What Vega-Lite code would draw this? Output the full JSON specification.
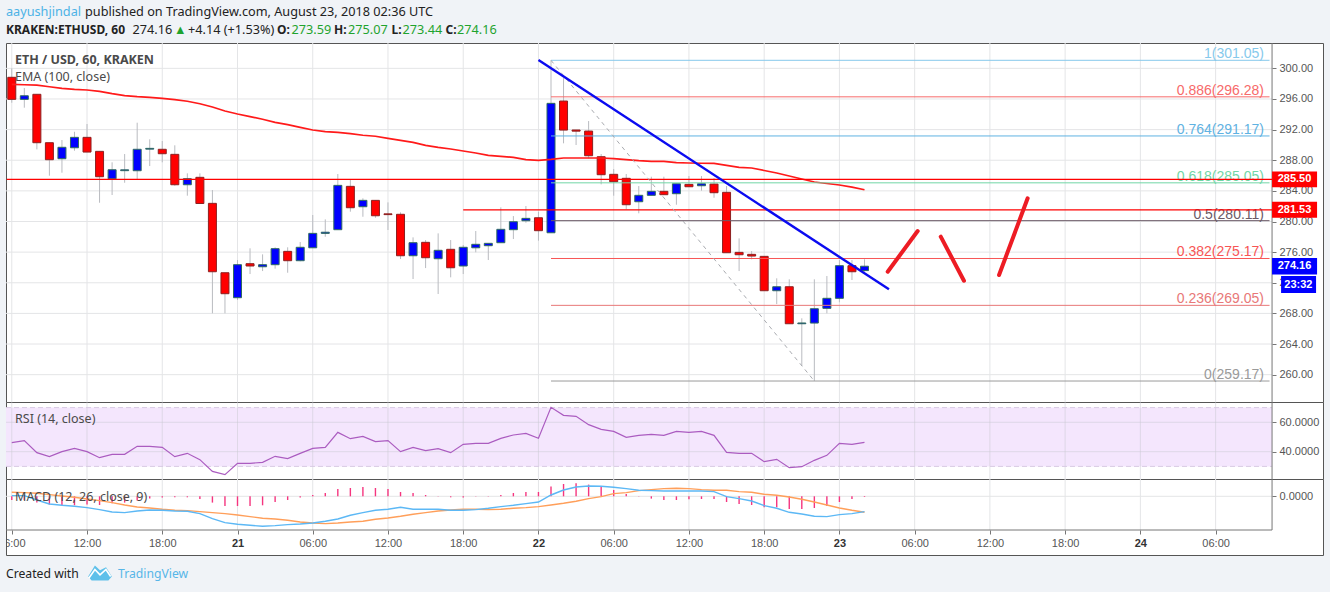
{
  "$schema": "https://vega.github.io/schema/vega-lite/v6.json",
  "background": "#f0f3f7",
  "padding": {"left": 5, "right": 7, "top": 0, "bottom": 0},
  "spacing": 0,
  "bounds": "flush",
  "resolve": {"scale": {"color": "independent"}},
  "config": {
    "axis": {"labelFont": "Liberation Sans", "labelFontSize": 11, "labelColor": "#555555", "tickColor": "#777777", "domain": false, "grid": false},
    "scale": {"continuousPadding": 0},
    "text": {"font": "Liberation Sans"}
  },
  "datasets": {
    "bars": [
      {"h":6,"o":298.83,"c":295.95,"hi":300.00,"lo":295.51,"dir":"down","ema":297.92,"rsi":46.14,"macd":0.07,"signal":0.40,"hist":-0.37},
      {"h":7,"o":295.95,"c":296.42,"hi":297.43,"lo":294.86,"dir":"up","ema":297.86,"rsi":47.51,"macd":0.07,"signal":0.37,"hist":-0.37},
      {"h":8,"o":296.61,"c":290.29,"hi":296.61,"lo":289.42,"dir":"down","ema":297.82,"rsi":39.34,"macd":-0.37,"signal":0.30,"hist":-0.63},
      {"h":9,"o":290.29,"c":288.07,"hi":290.29,"lo":285.98,"dir":"down","ema":297.60,"rsi":36.62,"macd":-0.77,"signal":0.17,"hist":-0.83},
      {"h":10,"o":288.20,"c":289.69,"hi":290.64,"lo":286.37,"dir":"up","ema":297.39,"rsi":40.02,"macd":-0.90,"signal":0.03,"hist":-0.90},
      {"h":11,"o":289.63,"c":290.99,"hi":291.72,"lo":289.24,"dir":"up","ema":297.26,"rsi":42.29,"macd":-1.00,"signal":-0.10,"hist":-0.90},
      {"h":12,"o":290.99,"c":289.07,"hi":292.73,"lo":289.07,"dir":"down","ema":297.17,"rsi":40.02,"macd":-1.13,"signal":-0.27,"hist":-0.83},
      {"h":13,"o":289.16,"c":285.85,"hi":289.16,"lo":282.45,"dir":"down","ema":297.00,"rsi":35.94,"macd":-1.33,"signal":-0.43,"hist":-0.87},
      {"h":14,"o":285.58,"c":286.76,"hi":287.73,"lo":283.46,"dir":"up","ema":296.69,"rsi":38.21,"macd":-1.57,"signal":-0.63,"hist":-0.70},
      {"h":15,"o":286.64,"c":286.75,"hi":288.81,"lo":285.06,"dir":"up","ema":296.43,"rsi":38.21,"macd":-1.63,"signal":-0.87,"hist":-0.63},
      {"h":16,"o":286.63,"c":289.43,"hi":292.90,"lo":285.51,"dir":"up","ema":296.30,"rsi":43.65,"macd":-1.47,"signal":-1.07,"hist":-0.43},
      {"h":17,"o":289.45,"c":289.55,"hi":290.73,"lo":287.24,"dir":"up","ema":296.22,"rsi":43.65,"macd":-1.37,"signal":-1.17,"hist":-0.23},
      {"h":18,"o":289.43,"c":288.85,"hi":290.51,"lo":287.73,"dir":"down","ema":296.09,"rsi":42.97,"macd":-1.40,"signal":-1.30,"hist":-0.13},
      {"h":19,"o":288.77,"c":284.80,"hi":289.95,"lo":284.67,"dir":"down","ema":295.91,"rsi":36.62,"macd":-1.47,"signal":-1.40,"hist":-0.10},
      {"h":20,"o":284.80,"c":285.59,"hi":286.29,"lo":283.37,"dir":"up","ema":295.70,"rsi":38.89,"macd":-1.50,"signal":-1.43,"hist":-0.10},
      {"h":21,"o":285.77,"c":282.35,"hi":286.29,"lo":282.35,"dir":"down","ema":295.38,"rsi":34.58,"macd":-1.73,"signal":-1.53,"hist":-0.27},
      {"h":22,"o":282.37,"c":273.44,"hi":284.11,"lo":268.01,"dir":"down","ema":294.95,"rsi":26.64,"macd":-2.23,"signal":-1.63,"hist":-0.63},
      {"h":23,"o":273.31,"c":270.57,"hi":273.31,"lo":268.01,"dir":"down","ema":294.43,"rsi":24.38,"macd":-2.63,"signal":-1.73,"hist":-0.97},
      {"h":24,"o":270.05,"c":274.36,"hi":274.97,"lo":269.75,"dir":"up","ema":294.04,"rsi":32.09,"macd":-2.80,"signal":-1.87,"hist":-0.97},
      {"h":25,"o":274.49,"c":274.19,"hi":276.50,"lo":273.14,"dir":"down","ema":293.69,"rsi":32.09,"macd":-2.90,"signal":-2.03,"hist":-0.97},
      {"h":26,"o":274.09,"c":274.36,"hi":275.71,"lo":273.53,"dir":"up","ema":293.35,"rsi":32.77,"macd":-3.00,"signal":-2.20,"hist":-0.90},
      {"h":27,"o":274.36,"c":276.45,"hi":276.63,"lo":273.84,"dir":"up","ema":292.95,"rsi":36.85,"macd":-2.93,"signal":-2.27,"hist":-0.57},
      {"h":28,"o":276.10,"c":274.88,"hi":276.63,"lo":273.31,"dir":"down","ema":292.64,"rsi":35.26,"macd":-2.83,"signal":-2.40,"hist":-0.37},
      {"h":29,"o":274.88,"c":276.63,"hi":277.32,"lo":274.80,"dir":"up","ema":292.30,"rsi":38.89,"macd":-2.77,"signal":-2.57,"hist":-0.13},
      {"h":30,"o":276.57,"c":278.45,"hi":280.85,"lo":276.57,"dir":"up","ema":291.95,"rsi":42.29,"macd":-2.67,"signal":-2.67,"hist":0.13},
      {"h":31,"o":278.45,"c":278.60,"hi":280.28,"lo":278.01,"dir":"up","ema":291.73,"rsi":42.97,"macd":-2.50,"signal":-2.73,"hist":0.33},
      {"h":32,"o":278.93,"c":284.72,"hi":286.20,"lo":278.93,"dir":"up","ema":291.65,"rsi":53.17,"macd":-2.27,"signal":-2.67,"hist":0.73},
      {"h":33,"o":284.59,"c":281.80,"hi":285.42,"lo":281.28,"dir":"down","ema":291.47,"rsi":48.87,"macd":-1.90,"signal":-2.57,"hist":0.83},
      {"h":34,"o":281.93,"c":282.76,"hi":283.03,"lo":280.62,"dir":"up","ema":291.26,"rsi":50.45,"macd":-1.63,"signal":-2.50,"hist":0.93},
      {"h":35,"o":282.76,"c":280.75,"hi":282.76,"lo":280.49,"dir":"down","ema":291.13,"rsi":46.83,"macd":-1.40,"signal":-2.30,"hist":0.83},
      {"h":36,"o":281.00,"c":280.90,"hi":282.50,"lo":278.89,"dir":"down","ema":290.86,"rsi":47.51,"macd":-1.30,"signal":-2.17,"hist":0.73},
      {"h":37,"o":280.94,"c":275.53,"hi":281.20,"lo":275.10,"dir":"down","ema":290.60,"rsi":40.02,"macd":-1.10,"signal":-2.00,"hist":0.43},
      {"h":38,"o":275.53,"c":277.23,"hi":277.93,"lo":272.49,"dir":"up","ema":290.34,"rsi":42.97,"macd":-1.30,"signal":-1.80,"hist":0.33},
      {"h":39,"o":277.28,"c":275.27,"hi":277.58,"lo":273.92,"dir":"down","ema":289.95,"rsi":40.70,"macd":-1.30,"signal":-1.63,"hist":0.13},
      {"h":40,"o":275.14,"c":276.24,"hi":278.45,"lo":270.53,"dir":"up","ema":289.69,"rsi":42.06,"macd":-1.30,"signal":-1.47,"hist":0.03},
      {"h":41,"o":276.37,"c":273.96,"hi":277.58,"lo":272.71,"dir":"down","ema":289.47,"rsi":39.34,"macd":-1.40,"signal":-1.37,"hist":-0.10},
      {"h":42,"o":274.19,"c":276.63,"hi":276.93,"lo":273.14,"dir":"up","ema":289.21,"rsi":45.01,"macd":-1.40,"signal":-1.30,"hist":-0.13},
      {"h":43,"o":276.57,"c":277.02,"hi":278.76,"lo":275.98,"dir":"up","ema":288.95,"rsi":45.69,"macd":-1.33,"signal":-1.30,"hist":-0.03},
      {"h":44,"o":276.84,"c":277.15,"hi":277.15,"lo":274.97,"dir":"up","ema":288.64,"rsi":45.69,"macd":-1.20,"signal":-1.33,"hist":0.03},
      {"h":45,"o":277.23,"c":278.98,"hi":281.85,"lo":277.23,"dir":"up","ema":288.51,"rsi":49.09,"macd":-1.03,"signal":-1.30,"hist":0.13},
      {"h":46,"o":278.93,"c":279.97,"hi":280.71,"lo":277.71,"dir":"up","ema":288.38,"rsi":51.36,"macd":-0.90,"signal":-1.20,"hist":0.33},
      {"h":47,"o":280.10,"c":280.41,"hi":282.02,"lo":279.84,"dir":"up","ema":288.07,"rsi":52.49,"macd":-0.73,"signal":-1.13,"hist":0.43},
      {"h":48,"o":280.49,"c":278.80,"hi":281.28,"lo":277.49,"dir":"down","ema":287.99,"rsi":49.09,"macd":-0.57,"signal":-1.03,"hist":0.43},
      {"h":49,"o":278.53,"c":295.43,"hi":301.05,"lo":278.53,"dir":"up","ema":288.12,"rsi":70.18,"macd":0.13,"signal":-0.87,"hist":0.97},
      {"h":50,"o":295.73,"c":291.94,"hi":298.73,"lo":290.21,"dir":"down","ema":288.29,"rsi":64.74,"macd":0.63,"signal":-0.70,"hist":1.23},
      {"h":51,"o":291.95,"c":291.80,"hi":291.95,"lo":289.99,"dir":"down","ema":288.29,"rsi":64.06,"macd":0.93,"signal":-0.50,"hist":1.30},
      {"h":52,"o":291.81,"c":288.59,"hi":293.12,"lo":288.25,"dir":"down","ema":288.29,"rsi":58.39,"macd":1.03,"signal":-0.23,"hist":1.17},
      {"h":53,"o":288.46,"c":286.11,"hi":288.81,"lo":284.85,"dir":"down","ema":288.29,"rsi":55.22,"macd":1.00,"signal":-0.03,"hist":0.93},
      {"h":54,"o":286.16,"c":285.19,"hi":286.85,"lo":283.37,"dir":"down","ema":288.20,"rsi":53.85,"macd":0.90,"signal":0.27,"hist":0.63},
      {"h":55,"o":285.64,"c":282.19,"hi":286.20,"lo":281.59,"dir":"down","ema":288.07,"rsi":49.77,"macd":0.77,"signal":0.37,"hist":0.23},
      {"h":56,"o":282.58,"c":283.42,"hi":284.63,"lo":281.07,"dir":"up","ema":287.94,"rsi":51.13,"macd":0.60,"signal":0.57,"hist":0.03},
      {"h":57,"o":283.42,"c":283.94,"hi":285.85,"lo":283.42,"dir":"up","ema":287.86,"rsi":51.81,"macd":0.57,"signal":0.67,"hist":-0.23},
      {"h":58,"o":283.94,"c":283.50,"hi":285.85,"lo":283.50,"dir":"down","ema":287.86,"rsi":51.13,"macd":0.53,"signal":0.77,"hist":-0.37},
      {"h":59,"o":283.63,"c":284.93,"hi":284.93,"lo":282.19,"dir":"up","ema":287.68,"rsi":53.85,"macd":0.53,"signal":0.80,"hist":-0.37},
      {"h":60,"o":284.85,"c":284.54,"hi":285.94,"lo":284.54,"dir":"down","ema":287.64,"rsi":53.17,"macd":0.53,"signal":0.77,"hist":-0.30},
      {"h":61,"o":284.67,"c":284.93,"hi":285.94,"lo":284.02,"dir":"up","ema":287.61,"rsi":53.85,"macd":0.53,"signal":0.67,"hist":-0.27},
      {"h":62,"o":284.89,"c":283.76,"hi":285.68,"lo":283.10,"dir":"down","ema":287.60,"rsi":51.13,"macd":0.47,"signal":0.60,"hist":-0.27},
      {"h":63,"o":283.81,"c":275.92,"hi":284.63,"lo":275.92,"dir":"down","ema":287.34,"rsi":39.57,"macd":-0.03,"signal":0.60,"hist":-0.57},
      {"h":64,"o":275.97,"c":275.66,"hi":277.80,"lo":273.53,"dir":"down","ema":287.08,"rsi":38.89,"macd":-0.23,"signal":0.47,"hist":-0.77},
      {"h":65,"o":275.71,"c":275.49,"hi":276.14,"lo":275.06,"dir":"down","ema":286.99,"rsi":38.89,"macd":-0.47,"signal":0.40,"hist":-0.87},
      {"h":66,"o":275.45,"c":270.96,"hi":275.45,"lo":270.96,"dir":"down","ema":286.66,"rsi":33.22,"macd":-0.93,"signal":0.20,"hist":-1.10},
      {"h":67,"o":270.96,"c":271.48,"hi":272.58,"lo":269.22,"dir":"up","ema":286.33,"rsi":34.81,"macd":-1.20,"signal":0.10,"hist":-1.10},
      {"h":68,"o":271.48,"c":266.65,"hi":272.45,"lo":266.65,"dir":"down","ema":285.94,"rsi":29.14,"macd":-1.60,"signal":-0.07,"hist":-1.27},
      {"h":69,"o":266.65,"c":266.75,"hi":267.36,"lo":261.13,"dir":"up","ema":285.55,"rsi":29.82,"macd":-1.77,"signal":-0.30,"hist":-1.27},
      {"h":70,"o":266.74,"c":268.61,"hi":272.45,"lo":259.17,"dir":"up","ema":285.16,"rsi":34.13,"macd":-2.00,"signal":-0.57,"hist":-1.17},
      {"h":71,"o":268.66,"c":269.97,"hi":272.88,"lo":268.01,"dir":"up","ema":284.96,"rsi":37.53,"macd":-2.03,"signal":-0.87,"hist":-0.97},
      {"h":72,"o":269.97,"c":274.23,"hi":274.97,"lo":269.45,"dir":"up","ema":284.77,"rsi":45.69,"macd":-1.83,"signal":-1.17,"hist":-0.57},
      {"h":73,"o":274.23,"c":273.44,"hi":274.97,"lo":272.36,"dir":"down","ema":284.50,"rsi":45.01,"macd":-1.73,"signal":-1.40,"hist":-0.27},
      {"h":74,"o":273.59,"c":274.16,"hi":275.07,"lo":273.44,"dir":"up","ema":284.15,"rsi":46.37,"macd":-1.53,"signal":-1.60,"hist":-0.07}
    ],
    "timeGrid": [{"h":6},{"h":12},{"h":18},{"h":24},{"h":30},{"h":36},{"h":42},{"h":48},{"h":54},{"h":60},{"h":66},{"h":72},{"h":78},{"h":84},{"h":90},{"h":96},{"h":102}],
    "priceGrid": [{"price":260},{"price":264},{"price":268},{"price":272},{"price":276},{"price":280},{"price":284},{"price":288},{"price":292},{"price":296},{"price":300}],
    "fib": [
      {"level":"1","price":301.05,"label":"1(301.05)"},
      {"level":"0.886","price":296.28,"label":"0.886(296.28)"},
      {"level":"0.764","price":291.17,"label":"0.764(291.17)"},
      {"level":"0.618","price":285.05,"label":"0.618(285.05)"},
      {"level":"0.5","price":280.11,"label":"0.5(280.11)"},
      {"level":"0.382","price":275.17,"label":"0.382(275.17)"},
      {"level":"0.236","price":269.05,"label":"0.236(269.05)"},
      {"level":"0","price":259.17,"label":"0(259.17)"}
    ],
    "tags": [
      {"start":106.5,"end":110.09,"mid":108.29,"price":285.50,"top":286.54,"bottom":284.46,"label":"285.50","kind":"level"},
      {"start":106.5,"end":110.09,"mid":108.29,"price":281.53,"top":282.57,"bottom":280.49,"label":"281.53","kind":"level"},
      {"start":106.5,"end":110.09,"mid":108.29,"price":274.16,"top":275.23,"bottom":273.09,"label":"274.16","kind":"last"},
      {"start":107.22,"end":110.01,"mid":108.6,"price":271.77,"top":272.88,"bottom":270.66,"label":"23:32","kind":"last"}
    ]
  },
  "vconcat": [
    {
      "width": 1317,
      "height": 43,
      "view": {"stroke": null},
      "encoding": {
        "x": {"field": "col", "type": "quantitative", "scale": {"domain": [0, 1317], "nice": false, "zero": false}, "axis": null},
        "y": {"field": "line", "type": "quantitative", "scale": {"domain": [43, 0], "nice": false, "zero": false}, "axis": null},
        "text": {"field": "label"},
        "color": {"field": "kind", "type": "nominal", "legend": null, "scale": {"domain": ["link", "text", "gain"], "range": ["#4db2e6", "#222222", "#1fa32e"]}}
      },
      "layer": [
        {
          "mark": {"type": "text", "align": "left", "font": "Noto Sans", "fontSize": 12.7},
          "data": {"values": [
            {"col":0,"line":11.5,"label":"aayushjindal","kind":"link"},
            {"col":79,"line":11.5,"label":"published on TradingView.com, August 23, 2018 02:36 UTC","kind":"text"},
            {"col":126.5,"line":29.5,"label":"274.16","kind":"text"},
            {"col":168,"line":29.5,"label":"▲","kind":"gain"},
            {"col":182,"line":29.5,"label":"+4.14 (+1.53%)","kind":"text"},
            {"col":285.5,"line":29.5,"label":"273.59","kind":"gain"},
            {"col":342,"line":29.5,"label":"275.07","kind":"gain"},
            {"col":396.5,"line":29.5,"label":"273.44","kind":"gain"},
            {"col":451,"line":29.5,"label":"274.16","kind":"gain"}
          ]}
        },
        {
          "mark": {"type": "text", "align": "left", "font": "Noto Sans", "fontSize": 12, "fontWeight": "bold"},
          "data": {"values": [
            {"col":0,"line":29.5,"label":"KRAKEN:ETHUSD, 60","kind":"text"},
            {"col":271,"line":29.5,"label":"O:","kind":"text"},
            {"col":328,"line":29.5,"label":"H:","kind":"text"},
            {"col":385.5,"line":29.5,"label":"L:","kind":"text"},
            {"col":439.5,"line":29.5,"label":"C:","kind":"text"}
          ]}
        }
      ]
    },
    {
      "width": 1317,
      "height": 359,
      "view": {"fill": "#ffffff", "stroke": "#555555"},
      "resolve": {"axis": {"x": "independent", "y": "independent"}, "scale": {"fill": "independent"}},
      "layer": [
        {
          "data": {"name": "timeGrid"},
          "mark": {"type": "rule", "color": "#e4e5e7"},
          "encoding": {
            "x": {"field": "h", "type": "quantitative", "scale": {"domain": [5.539, 110.563], "nice": false, "zero": false, "padding": 0}, "axis": null},
            "y": {"datum": 256.43, "axis": null},
            "y2": {"datum": 303.31}
          }
        },
        {
          "data": {"name": "priceGrid"},
          "mark": {"type": "rule", "color": "#e4e5e7"},
          "encoding": {
            "x": {"datum": 5.539, "axis": null},
            "x2": {"datum": 106.5},
            "y": {"field": "price", "type": "quantitative", "scale": {"domain": [256.43, 303.31], "nice": false, "zero": false},
              "axis": {"orient": "right", "offset": -51, "title": null, "values": [260,264,268,272,276,280,284,288,292,296,300], "format": ".2f", "tickSize": 4, "labelPadding": 3, "labelOverlap": false}}
          }
        },
        {
          "data": {"values": [{"h": 106.5}]},
          "mark": {"type": "rule", "color": "#777777"},
          "encoding": {"x": {"field": "h", "type": "quantitative", "axis": null}, "y": {"datum": 256.43, "axis": null}, "y2": {"datum": 303.31}}
        },
        {
          "data": {"name": "bars"},
          "mark": {"type": "rule", "color": "#b9bbc0", "clip": true},
          "encoding": {"x": {"field": "h", "type": "quantitative", "axis": null}, "y": {"field": "lo", "type": "quantitative", "axis": null}, "y2": {"field": "hi"}}
        },
        {
          "data": {"name": "bars"},
          "mark": {"type": "bar", "size": 8, "strokeWidth": 1, "clip": true},
          "encoding": {
            "x": {"field": "h", "type": "quantitative", "axis": null},
            "y": {"field": "o", "type": "quantitative", "axis": null},
            "y2": {"field": "c"},
            "fill": {"field": "dir", "type": "nominal", "legend": null, "scale": {"domain": ["up", "down"], "range": ["#0000ff", "#ff0000"]}},
            "stroke": {"field": "dir", "type": "nominal", "legend": null, "scale": {"domain": ["up", "down"], "range": ["#2f6b5e", "#8c2020"]}}
          }
        },
        {
          "data": {"name": "bars"},
          "mark": {"type": "line", "color": "#ff1a1a", "strokeWidth": 1.7},
          "encoding": {"x": {"field": "h", "type": "quantitative", "axis": null}, "y": {"field": "ema", "type": "quantitative", "axis": null}}
        },
        {
          "data": {"name": "fib"},
          "mark": {"type": "rule", "strokeWidth": 1},
          "encoding": {
            "x": {"datum": 49, "axis": null},
            "x2": {"datum": 106.3},
            "y": {"field": "price", "type": "quantitative", "axis": null},
            "color": {"field": "level", "type": "nominal", "legend": null, "scale": {
              "domain": ["1","0.886","0.764","0.618","0.5","0.382","0.236","0"],
              "range": ["#86c9ec","#f76a6a","#5fb2e2","#72d6a6","#6b5a66","#f75555","#e87878","#9a9a9a"]}}
          }
        },
        {
          "data": {"name": "fib"},
          "mark": {"type": "text", "align": "right", "dy": -6, "fontSize": 14},
          "encoding": {
            "x": {"datum": 105.86, "axis": null},
            "y": {"field": "price", "type": "quantitative", "axis": null},
            "text": {"field": "label"},
            "color": {"field": "level", "type": "nominal", "legend": null}
          }
        },
        {
          "data": {"values": [{"price": 285.5}]},
          "mark": {"type": "rule", "color": "#ff0000", "strokeWidth": 1.3},
          "encoding": {"x": {"datum": 5.6, "axis": null}, "x2": {"datum": 106.5}, "y": {"field": "price", "type": "quantitative", "axis": null}}
        },
        {
          "data": {"values": [{"price": 281.53}]},
          "mark": {"type": "rule", "color": "#ff0000", "strokeWidth": 1.3},
          "encoding": {"x": {"datum": 42, "axis": null}, "x2": {"datum": 106.5}, "y": {"field": "price", "type": "quantitative", "axis": null}}
        },
        {
          "data": {"values": [{"h": 49, "price": 301.05}, {"h": 70, "price": 259.17}]},
          "mark": {"type": "line", "color": "#a9abb0", "strokeWidth": 1, "strokeDash": [4, 4]},
          "encoding": {"x": {"field": "h", "type": "quantitative", "axis": null}, "y": {"field": "price", "type": "quantitative", "axis": null}}
        },
        {
          "data": {"values": [{"h": 48, "price": 301.09}, {"h": 75.95, "price": 271.14}]},
          "mark": {"type": "line", "color": "#0b0bf0", "strokeWidth": 2.4},
          "encoding": {"x": {"field": "h", "type": "quantitative", "axis": null}, "y": {"field": "price", "type": "quantitative", "axis": null}}
        },
        {
          "data": {"values": [
            {"stroke": "a", "h": 75.85, "price": 273.44}, {"stroke": "a", "h": 78.24, "price": 278.76},
            {"stroke": "b", "h": 80.08, "price": 278.02}, {"stroke": "b", "h": 81.93, "price": 272.27},
            {"stroke": "c", "h": 84.73, "price": 273.01}, {"stroke": "c", "h": 87.01, "price": 283.03}
          ]},
          "mark": {"type": "line", "color": "#ed1c24", "strokeWidth": 4, "strokeCap": "round"},
          "encoding": {"x": {"field": "h", "type": "quantitative", "axis": null}, "y": {"field": "price", "type": "quantitative", "axis": null}, "detail": {"field": "stroke"}}
        },
        {
          "data": {"values": [{"h": 6.26, "price": 301.09, "label": "ETH / USD, 60, KRAKEN"}]},
          "mark": {"type": "text", "align": "left", "font": "Noto Sans", "fontSize": 12.5, "fontWeight": "bold", "color": "#4a4a4a"},
          "encoding": {"x": {"field": "h", "type": "quantitative", "axis": null}, "y": {"field": "price", "type": "quantitative", "axis": null}, "text": {"field": "label"}}
        },
        {
          "data": {"values": [{"h": 6.26, "price": 298.87, "label": "EMA (100, close)"}]},
          "mark": {"type": "text", "align": "left", "font": "Noto Sans", "fontSize": 12.5, "color": "#4a4a4a"},
          "encoding": {"x": {"field": "h", "type": "quantitative", "axis": null}, "y": {"field": "price", "type": "quantitative", "axis": null}, "text": {"field": "label"}}
        },
        {
          "data": {"name": "tags"},
          "mark": {"type": "rect"},
          "encoding": {
            "x": {"field": "start", "type": "quantitative", "axis": null},
            "x2": {"field": "end"},
            "y": {"field": "bottom", "type": "quantitative", "axis": null},
            "y2": {"field": "top"},
            "fill": {"field": "kind", "type": "nominal", "legend": null, "scale": {"domain": ["level", "last"], "range": ["#ff0000", "#0000ff"]}}
          }
        },
        {
          "data": {"name": "tags"},
          "mark": {"type": "text", "color": "#ffffff", "fontSize": 11, "fontWeight": "bold"},
          "encoding": {
            "x": {"field": "mid", "type": "quantitative", "axis": null},
            "y": {"field": "price", "type": "quantitative", "axis": null},
            "text": {"field": "label"}
          }
        }
      ]
    },
    {
      "width": 1317,
      "height": 77,
      "view": {"fill": "#ffffff", "stroke": "#555555"},
      "resolve": {"axis": {"x": "independent", "y": "independent"}},
      "layer": [
        {
          "data": {"values": [{"top": 70, "bottom": 30}]},
          "mark": {"type": "rect", "color": "#f4e6fd"},
          "encoding": {
            "x": {"datum": 5.539, "axis": null, "scale": {"domain": [5.539, 110.563], "nice": false, "zero": false, "padding": 0}},
            "x2": {"datum": 106.5},
            "y": {"field": "bottom", "type": "quantitative", "axis": null, "scale": {"domain": [21.43, 73.81], "nice": false, "zero": false, "padding": 0}},
            "y2": {"field": "top"}
          }
        },
        {
          "data": {"name": "timeGrid"},
          "mark": {"type": "rule", "color": "#c9c9d2", "opacity": 0.5},
          "encoding": {"x": {"field": "h", "type": "quantitative", "axis": null}, "y": {"datum": 21.43, "axis": null}, "y2": {"datum": 73.81}}
        },
        {
          "data": {"values": [{"level": 60}, {"level": 40}]},
          "mark": {"type": "rule", "color": "#c9c9d2", "opacity": 0.5},
          "encoding": {
            "x": {"datum": 5.539, "axis": null},
            "x2": {"datum": 106.5},
            "y": {"field": "level", "type": "quantitative", "axis": {"orient": "right", "offset": -51, "title": null, "values": [60, 40], "format": ".4f", "tickSize": 4, "labelPadding": 3}}
          }
        },
        {
          "data": {"values": [{"level": 70}, {"level": 30}]},
          "mark": {"type": "rule", "color": "#d8cbe4", "strokeDash": [5, 3]},
          "encoding": {
            "x": {"datum": 5.539, "axis": null},
            "x2": {"datum": 106.5},
            "y": {"field": "level", "type": "quantitative", "axis": null}
          }
        },
        {
          "data": {"values": [{"h": 106.5}]},
          "mark": {"type": "rule", "color": "#777777"},
          "encoding": {"x": {"field": "h", "type": "quantitative", "axis": null}, "y": {"datum": 21.43, "axis": null}, "y2": {"datum": 73.81}}
        },
        {
          "data": {"name": "bars"},
          "mark": {"type": "line", "color": "#ab5cc0", "strokeWidth": 1.2},
          "encoding": {"x": {"field": "h", "type": "quantitative", "axis": null}, "y": {"field": "rsi", "type": "quantitative", "axis": null}}
        },
        {
          "data": {"values": [{"h": 6.26, "v": 62.04, "label": "RSI (14, close)"}]},
          "mark": {"type": "text", "align": "left", "font": "Noto Sans", "fontSize": 12.5, "color": "#4a4a4a"},
          "encoding": {"x": {"field": "h", "type": "quantitative", "axis": null}, "y": {"field": "v", "type": "quantitative", "axis": null}, "text": {"field": "label"}}
        }
      ]
    },
    {
      "width": 1317,
      "height": 76,
      "view": {"fill": "#ffffff", "stroke": "#555555"},
      "resolve": {"axis": {"x": "independent", "y": "independent"}},
      "layer": [
        {
          "data": {"name": "timeGrid"},
          "mark": {"type": "rule", "color": "#e4e5e7"},
          "encoding": {
            "x": {"field": "h", "type": "quantitative", "scale": {"domain": [5.539, 110.563], "nice": false, "zero": false},
              "axis": {"orient": "bottom", "offset": -25, "title": null, "values": [6,12,18,24,30,36,42,48,54,60,66,72,78,84,90,96,102], "tickSize": 4, "labelPadding": 3, "labelOverlap": false, "labelFlush": false,
                "labelExpr": "datum.value == 6 ? '' : datum.value % 24 == 0 ? toString(20 + datum.value / 24) : datum.value % 24 == 6 ? '06:00' : datum.value % 24 == 12 ? '12:00' : '18:00'",
                "labelFontWeight": {"condition": {"test": "datum.value % 24 == 0", "value": "bold"}, "value": "normal"},
                "labelColor": {"condition": {"test": "datum.value % 24 == 0", "value": "#333333"}, "value": "#555555"}}},
            "y": {"datum": -3.37, "axis": null, "scale": {"domain": [-5.87, 1.73], "nice": false, "zero": false}},
            "y2": {"datum": 1.73}
          }
        },
        {
          "data": {"values": [{"v": 0}]},
          "mark": {"type": "rule", "color": "#e4e5e7"},
          "encoding": {
            "x": {"datum": 5.539, "axis": null},
            "x2": {"datum": 106.5},
            "y": {"field": "v", "type": "quantitative", "axis": {"orient": "right", "offset": -51, "title": null, "values": [0], "format": ".4f", "tickSize": 4, "labelPadding": 3}}
          }
        },
        {
          "data": {"values": [{"v": -3.37}]},
          "mark": {"type": "rule", "color": "#777777"},
          "encoding": {
            "x": {"datum": 5.539, "axis": null},
            "x2": {"datum": 106.5},
            "y": {"field": "v", "type": "quantitative", "axis": null}
          }
        },
        {
          "data": {"values": [{"h": 106.5}]},
          "mark": {"type": "rule", "color": "#777777"},
          "encoding": {"x": {"field": "h", "type": "quantitative", "axis": null}, "y": {"datum": -3.37, "axis": null}, "y2": {"datum": 1.73}}
        },
        {
          "data": {"name": "bars"},
          "mark": {"type": "rule", "color": "#f5357f", "strokeWidth": 1.4},
          "encoding": {"x": {"field": "h", "type": "quantitative", "axis": null}, "y": {"field": "hist", "type": "quantitative", "axis": null}, "y2": {"datum": 0}}
        },
        {
          "data": {"name": "bars"},
          "mark": {"type": "line", "color": "#ff9f5a", "strokeWidth": 1.4},
          "encoding": {"x": {"field": "h", "type": "quantitative", "axis": null}, "y": {"field": "signal", "type": "quantitative", "axis": null}}
        },
        {
          "data": {"name": "bars"},
          "mark": {"type": "line", "color": "#5cb8f5", "strokeWidth": 1.4},
          "encoding": {"x": {"field": "h", "type": "quantitative", "axis": null}, "y": {"field": "macd", "type": "quantitative", "axis": null}}
        },
        {
          "data": {"values": [{"h": 6.26, "v": -0.04, "label": "MACD (12, 26, close, 9)"}]},
          "mark": {"type": "text", "align": "left", "font": "Noto Sans", "fontSize": 12.5, "color": "#4a4a4a"},
          "encoding": {"x": {"field": "h", "type": "quantitative", "axis": null}, "y": {"field": "v", "type": "quantitative", "axis": null}, "text": {"field": "label"}}
        },
        {
          "data": {"values": [{"h": 6, "v": -4.77, "label": "06:00"}]},
          "mark": {"type": "text", "fontSize": 11, "color": "#555555", "clip": true},
          "encoding": {"x": {"field": "h", "type": "quantitative", "axis": null}, "y": {"field": "v", "type": "quantitative", "axis": null}, "text": {"field": "label"}}
        }
      ]
    },
    {
      "width": 1317,
      "height": 37,
      "view": {"stroke": null},
      "encoding": {
        "x": {"field": "col", "type": "quantitative", "scale": {"domain": [0, 1317], "nice": false, "zero": false}, "axis": null},
        "y": {"field": "line", "type": "quantitative", "scale": {"domain": [37, 0], "nice": false, "zero": false}, "axis": null}
      },
      "layer": [
        {
          "data": {"values": [{"col": 0, "line": 19, "label": "Created with"}]},
          "mark": {"type": "text", "align": "left", "font": "Noto Sans", "fontSize": 12.2, "color": "#222222"},
          "encoding": {"text": {"field": "label"}}
        },
        {
          "data": {"values": [{"col": 112, "line": 19, "label": "TradingView"}]},
          "mark": {"type": "text", "align": "left", "font": "Noto Sans", "fontSize": 12.2, "color": "#57b6e8"},
          "encoding": {"text": {"field": "label"}}
        },
        {
          "data": {"values": [{"col": 94, "line": 18}]},
          "mark": {"type": "point", "filled": true, "opacity": 1, "color": "#5ec0ea", "size": 560, "shape": "M-1,0.29 L-0.43,-0.63 L0,-0.23 L0.51,-0.49 L1,0.29 L0.71,0.63 L-0.71,0.63 Z"}
        },
        {
          "data": {"values": [{"col": 94, "line": 18}]},
          "mark": {"type": "point", "filled": false, "opacity": 1, "color": "#ffffff", "strokeWidth": 1.6, "size": 560, "shape": "M-0.95,0.45 L-0.43,-0.3 L0,0.15 L0.5,-0.3 L0.9,0.3"}
        }
      ]
    }
  ]
}
